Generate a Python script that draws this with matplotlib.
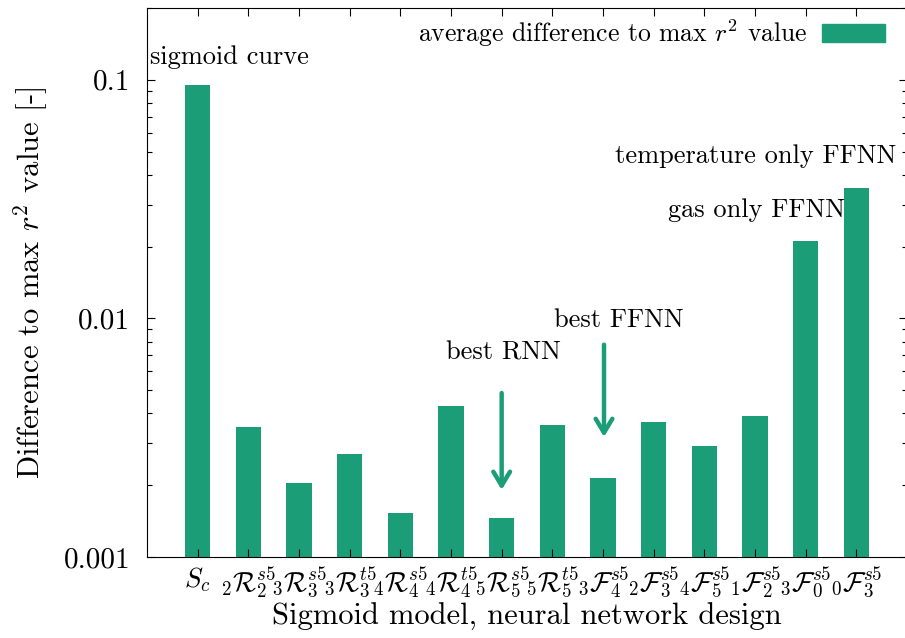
import matplotlib
matplotlib.use("Agg")
import matplotlib.pyplot as plt
from matplotlib.patches import Patch

plt.rcParams["font.family"] = "serif"
plt.rcParams["font.serif"] = ["cmr10"]
plt.rcParams["mathtext.fontset"] = "cm"
plt.rcParams["axes.formatter.use_mathtext"] = True

labels = [
    r"$S_c$",
    r"${}_2\mathcal{R}_2^{s5}$",
    r"${}_3\mathcal{R}_3^{s5}$",
    r"${}_3\mathcal{R}_3^{t5}$",
    r"${}_4\mathcal{R}_4^{s5}$",
    r"${}_4\mathcal{R}_4^{t5}$",
    r"${}_5\mathcal{R}_5^{s5}$",
    r"${}_5\mathcal{R}_5^{t5}$",
    r"${}_3\mathcal{F}_4^{s5}$",
    r"${}_2\mathcal{F}_3^{s5}$",
    r"${}_4\mathcal{F}_5^{s5}$",
    r"${}_1\mathcal{F}_2^{s5}$",
    r"${}_3\mathcal{F}_0^{s5}$",
    r"${}_0\mathcal{F}_3^{s5}$",
]
values = [0.0953, 0.00351, 0.00204, 0.00270, 0.00153, 0.00430, 0.00146,
          0.00357, 0.00214, 0.00368, 0.00292, 0.00390, 0.0211, 0.0352]

green = "#1b9e77"

fig = plt.figure(figsize=(9.05, 6.38), dpi=100)
ax = fig.add_axes([147 / 905, 81 / 638, 760 / 905, 549 / 638])

x = list(range(len(values)))
ax.bar(x, values, width=0.5, color=green)
ax.set_yscale("log")
ax.set_ylim(0.001, 0.2)
ax.set_xlim(-1, 14)

ax.set_xticks(x)
ax.set_xticklabels(labels, fontsize=19.5)
ax.set_yticks([0.001, 0.01, 0.1])
ax.set_yticklabels(["0.001", "0.01", "0.1"], fontsize=21)
ax.tick_params(which="both", direction="in", top=True, right=True)
ax.tick_params(which="major", length=6, width=0.8)
ax.tick_params(which="minor", length=3.5, width=0.8)
ax.tick_params(axis="y", pad=12)
ax.tick_params(axis="x", pad=6)

ax.set_xlabel("Sigmoid model, neural network design", fontsize=22, labelpad=1)
ax.set_ylabel(r"Difference to max $r^2$ value [-]", fontsize=22, labelpad=10)

ax.text(-0.94, 0.1249, "sigmoid curve", fontsize=19, va="center")
ax.text(11.01, 0.0480, "temperature only FFNN", fontsize=19, ha="center", va="center")
ax.text(11.02, 0.0285, "gas only FFNN", fontsize=19, ha="center", va="center")
ax.text(6.03, 0.00717, "best RNN", fontsize=19, ha="center", va="center")
ax.text(8.32, 0.00986, "best FFNN", fontsize=19, ha="center", va="center")

arrow = dict(arrowstyle="->,head_length=1.0,head_width=0.6", color=green, lw=3.2)
ax.annotate("", xy=(6.0, 0.00186), xytext=(6.0, 0.0050), arrowprops=arrow)
ax.annotate("", xy=(8.02, 0.0031), xytext=(8.02, 0.00797), arrowprops=arrow)

ax.legend(handles=[Patch(color=green, label=r"average difference to max $r^2$ value")],
          loc="center right", bbox_to_anchor=(885 / 905, 1 - 33 / 638),
          bbox_transform=fig.transFigure, frameon=False,
          fontsize=18.5, markerfirst=False, handlelength=2.45, handleheight=0.7,
          handletextpad=0.55, borderpad=0, borderaxespad=0)

fig.savefig("out.png", dpi=100)
